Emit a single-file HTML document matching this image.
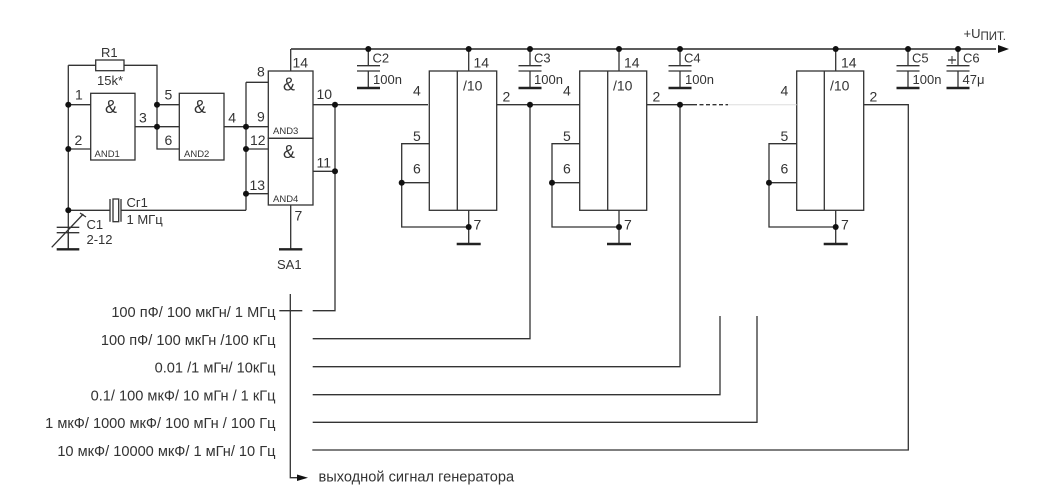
<!DOCTYPE html>
<html><head><meta charset="utf-8"><style>
html,body{margin:0;padding:0;background:#fff;width:1048px;height:504px;overflow:hidden}
svg{display:block}
text{font-family:"Liberation Sans",sans-serif;font-size:13px;fill:#333}
.s{font-size:9.5px}
.e{text-anchor:end;font-size:14.6px}
.p{font-size:14px}
.a{font-size:18px}
</style></head><body>
<svg width="1048" height="504" viewBox="0 0 1048 504" xmlns="http://www.w3.org/2000/svg">
<g fill="none" stroke="#333" stroke-width="1.3">
<!-- R1 and gates -->
<path d="M68.3 65.3H95.7M124 65.3H157V149H179.3M68.3 65.3V249M68.3 104.7H90.7M68.3 149H90.7M135 126.7H179.3M157 104.7H179.3"/>
<rect x="95.7" y="60" width="28.3" height="10.7"/>
<rect x="90.7" y="93.3" width="44.3" height="66.7"/>
<rect x="179.3" y="93.3" width="44.7" height="66.7"/>
<rect x="268.3" y="71" width="44.7" height="67.3"/>
<rect x="268.3" y="138.3" width="44.7" height="66.7"/>
<path d="M224 126.7H268.3M246 82.3H268.3M246 82.3V210.3M246 149H268.3M246 193.7H268.3"/>
<path d="M68.3 210.3H110M121 210.3H246"/>
<path d="M110 199V221.7M121 199V221.7"/>
<rect x="113" y="199" width="5.7" height="22.7"/>
<path d="M313 104.7H428M335 104.7V310.7H312.7M313 171.3H335"/>
<path d="M290.7 71V49M290.7 205V249.3"/>
<!-- C1 -->
<path d="M56.7 227.3H79.3M56.7 232.7H79.3M68.3 232.7V249M51.7 247.3L83.3 214M80 213L86 217"/>
<!-- caps -->
<path d="M368.3 49V65.7M357 65.7H380M357 71H380M368.3 71V88"/>
<path d="M530 49V65.7M518.5 65.7H541.5M518.5 71H541.5M530 71V88"/>
<path d="M680 49V65.7M668.5 65.7H691.5M668.5 71H691.5M680 71V88"/>
<path d="M908 49V65.7M896.5 65.7H919.5M896.5 71H919.5M908 71V88"/>
<path d="M958 49V65.7M946.5 65.7H969.5M946.5 71H969.5M958 71V88"/>
<path d="M948 60H956"/>
<path d="M952 56V64" stroke-width="1"/>
<!-- ICs -->
<rect x="429.3" y="71" width="67.4" height="139.3"/>
<path d="M457.3 71V210.3M468.7 49V71M468.7 210.3V244M429.3 143.7H401.7V227H468.7M401.7 182.7H429.3"/>
<rect x="579.7" y="71" width="67" height="139.3"/>
<path d="M607.7 71V210.3M619 49V71M619 210.3V244M579.7 143.7H552V227H619M552 182.7H579.7"/>
<rect x="796.7" y="71" width="67" height="139.3"/>
<path d="M824.3 71V210.3M835.7 49V71M835.7 210.3V244M796.7 143.7H769V227H835.7M769 182.7H796.7"/>
<!-- signal -->
<path d="M496.7 104.7H579.7M646.7 104.7H693"/>
<path d="M693 104.7H728" stroke-dasharray="4 2.5"/>
<path d="M863.7 104.7H908.3V450H312.3"/>
<path d="M312.7 338.7H530V104.7M312.7 366.7H680V104.7M312.7 394.7H720V316M312.7 422.3H757V316"/>
<path d="M279.3 310.7H302.3M290.3 294V477.7H300"/>
</g>
<path d="M728 104.7H796.7" stroke="#ddd" stroke-width="1" fill="none"/>
<path d="M291 49H996" stroke="#444" stroke-width="1.8" fill="none"/>
<g fill="none" stroke="#222" stroke-width="2.4">
<path d="M279 249.3H302.3M56.7 249.3H79.3M357 88H380M518.5 88H541.5M668.5 88H691.5M896.5 88H919.5M946.5 88H969.5M456.7 244H480.7M607 244H631M823.7 244H847.7"/>
</g>
<g fill="#111">
<path d="M998 45L1009 49L998 53Z"/>
<path d="M297 474.5L308 477.7L297 481Z"/>
<circle cx="68.3" cy="104.7" r="3"/><circle cx="68.3" cy="149" r="3"/><circle cx="68.3" cy="210.3" r="3"/>
<circle cx="157" cy="104.7" r="3"/><circle cx="157" cy="126.7" r="3"/>
<circle cx="246" cy="126.7" r="3"/><circle cx="246" cy="149" r="3"/><circle cx="246" cy="193.7" r="3"/>
<circle cx="335" cy="104.7" r="3"/><circle cx="335" cy="171.3" r="3"/>
<circle cx="368.3" cy="49" r="3"/><circle cx="468.7" cy="49" r="3"/><circle cx="530" cy="49" r="3"/><circle cx="619" cy="49" r="3"/><circle cx="680" cy="49" r="3"/><circle cx="835.7" cy="49" r="3"/><circle cx="908" cy="49" r="3"/><circle cx="958" cy="49" r="3"/>
<circle cx="530" cy="104.7" r="3"/><circle cx="680" cy="104.7" r="3"/>
<circle cx="401.7" cy="182.7" r="3"/><circle cx="468.7" cy="227" r="3"/>
<circle cx="552" cy="182.7" r="3"/><circle cx="619" cy="227" r="3"/>
<circle cx="769" cy="182.7" r="3"/><circle cx="835.7" cy="227" r="3"/>
</g>
<!-- gate labels -->
<text x="101" y="57">R1</text><text x="97" y="85">15k*</text>
<text class="p" x="75" y="99.5">1</text><text class="p" x="74.5" y="145">2</text><text class="p" x="139" y="122.3">3</text>
<text class="p" x="164.5" y="99.7">5</text><text class="p" x="164.5" y="145">6</text><text class="p" x="228.3" y="122.3">4</text>
<text class="p" x="257" y="76.5">8</text><text class="p" x="257" y="121.7">9</text><text class="p" x="250" y="145">12</text><text class="p" x="249.5" y="190">13</text>
<text class="p" x="292.5" y="67.3">14</text><text class="p" x="316.5" y="99">10</text><text class="p" x="316.5" y="167.3">11</text><text class="p" x="294.5" y="220.7">7</text>
<text class="a" x="105" y="113">&amp;</text><text class="a" x="194" y="113">&amp;</text>
<text class="a" x="283" y="90.5">&amp;</text><text class="a" x="283" y="158">&amp;</text>
<text class="s" x="94.5" y="157">AND1</text><text class="s" x="184" y="157">AND2</text><text class="s" x="273" y="134">AND3</text><text class="s" x="273" y="202">AND4</text>
<text x="126.5" y="207">Сг1</text><text x="126.5" y="224">1 МГц</text>
<text x="86.5" y="229">С1</text><text x="86.5" y="244">2-12</text>
<text x="277" y="269">SA1</text>
<!-- caps labels -->
<text x="372.5" y="62.7">С2</text><text x="373" y="84">100n</text>
<text x="534" y="62.7">С3</text><text x="534" y="84">100n</text>
<text x="684" y="62.7">С4</text><text x="685" y="84">100n</text>
<text x="912" y="62.7">С5</text><text x="912.5" y="84">100n</text>
<text x="963" y="62.7">С6</text><text x="962.5" y="84">47μ</text>
<text x="963.5" y="38">+U<tspan style="font-size:11.5px" dy="2">ПИТ.</tspan></text>
<!-- IC labels -->
<text class="p" x="413" y="95.7">4</text><text class="p" x="413" y="141">5</text><text class="p" x="413" y="173.3">6</text>
<text class="p" x="473.5" y="67.7">14</text><text class="p" x="463" y="90.7">/10</text><text class="p" x="502.5" y="101.5">2</text><text class="p" x="473.5" y="229.3">7</text>
<text class="p" x="563" y="95.7">4</text><text class="p" x="563" y="141">5</text><text class="p" x="563" y="173.3">6</text>
<text class="p" x="624" y="67.7">14</text><text class="p" x="613" y="90.7">/10</text><text class="p" x="652.5" y="101.5">2</text><text class="p" x="624" y="229.3">7</text>
<text class="p" x="780.5" y="95.7">4</text><text class="p" x="780.5" y="141">5</text><text class="p" x="780.5" y="173.3">6</text>
<text class="p" x="841" y="67.7">14</text><text class="p" x="830" y="90.7">/10</text><text class="p" x="869.5" y="101.5">2</text><text class="p" x="841" y="229.3">7</text>
<!-- list -->
<text class="e" x="275.5" y="317">100 пФ/ 100 мкГн/ 1 МГц</text>
<text class="e" x="275.5" y="345">100 пФ/ 100 мкГн /100 кГц</text>
<text class="e" x="275.5" y="372.7">0.01 /1 мГн/ 10кГц</text>
<text class="e" x="275.5" y="400.5">0.1/ 100 мкФ/ 10 мГн / 1 кГц</text>
<text class="e" x="275.5" y="428">1 мкФ/ 1000 мкФ/ 100 мГн / 100 Гц</text>
<text class="e" x="275.5" y="456">10 мкФ/ 10000 мкФ/ 1 мГн/ 10 Гц</text>
<text x="318.5" y="481.7" style="font-size:14.6px">выходной сигнал генератора</text>
</svg>
</body></html>
